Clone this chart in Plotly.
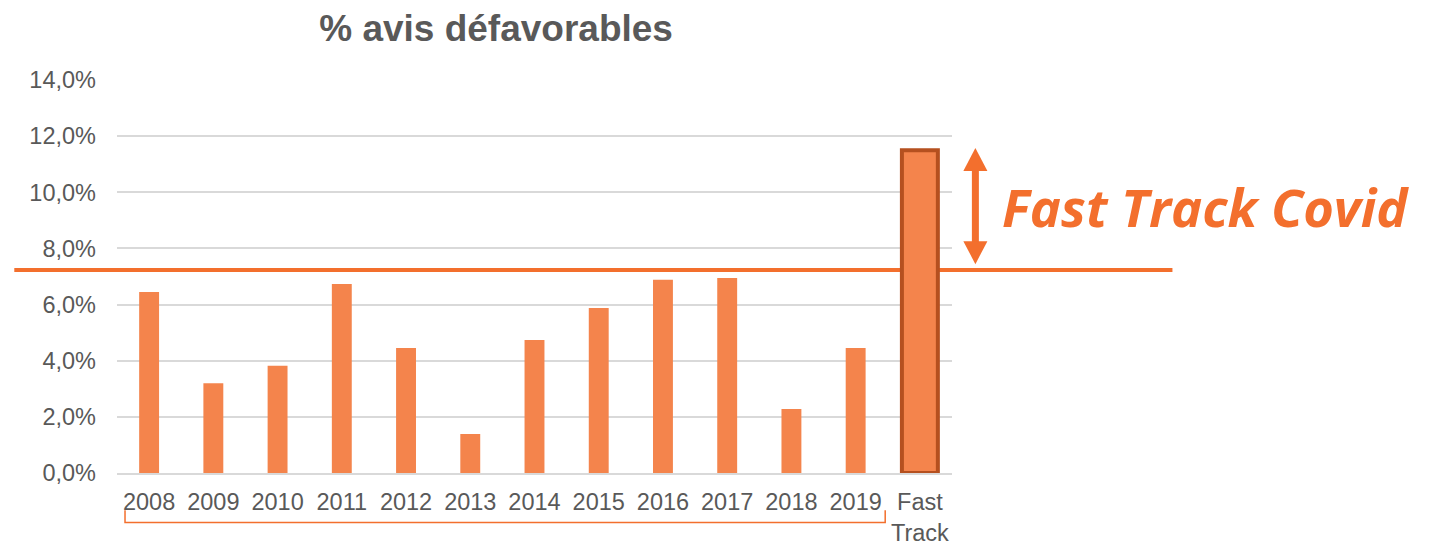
import plotly.graph_objects as go

years = ['2008', '2009', '2010', '2011', '2012', '2013', '2014', '2015', '2016', '2017', '2018', '2019']
rates = [6.45, 3.2, 3.82, 6.73, 4.45, 1.39, 4.74, 5.88, 6.88, 6.95, 2.28, 4.45]
fast_label = 'Fast<br>Track'
fast_rate = 11.5
threshold = 7.23
tick_vals = [0, 2, 4, 6, 8, 10, 12, 14]
tick_text = ['0,0%', '2,0%', '4,0%', '6,0%', '8,0%', '10,0%', '12,0%', '14,0%']

bar_col = '#F4844C'
line_col = '#F36F2D'
grey = '#595959'

fig = go.Figure()
fig.add_trace(go.Bar(x=years, y=rates, width=0.31, marker=dict(color=bar_col, line=dict(width=0)),
                     showlegend=False))
fig.add_trace(go.Bar(x=[fast_label], y=[fast_rate], width=0.56,
                     marker=dict(color=bar_col, line=dict(color='#B5501F', width=4)),
                     showlegend=False))

# threshold line, runs past the plot on both sides
fig.add_shape(type='line', xref='paper', yref='y', x0=-0.123, x1=1.264, y0=threshold, y1=threshold,
              line=dict(color=line_col, width=4), layer='between')

# double arrow between threshold and fast track bar
ax = 1.028
top, bottom = 11.58, 7.44
head = 0.82
hw = 0.0144
fig.add_shape(type='line', xref='paper', yref='y', x0=ax, x1=ax, y0=top - 0.3, y1=bottom + 0.3,
              line=dict(color=line_col, width=7))
fig.add_shape(type='path', xref='paper', yref='y',
              path=f'M {ax} {top} L {ax - hw} {top - head} L {ax + hw} {top - head} Z',
              fillcolor=line_col, line=dict(width=0))
fig.add_shape(type='path', xref='paper', yref='y',
              path=f'M {ax} {bottom} L {ax - hw} {bottom + head} L {ax + hw} {bottom + head} Z',
              fillcolor=line_col, line=dict(width=0))

fig.add_annotation(text='<b><i>Fast Track Covid</i></b>', xref='paper', yref='y', x=1.057, y=9.5,
                   xanchor='left', yanchor='middle', showarrow=False,
                   font=dict(family='Open Sans', size=52.5, color=line_col))

# bracket under the yearly labels
fig.add_shape(type='path', xref='paper', yref='paper',
              path='M 0.0096 -0.095 L 0.0096 -0.126 L 0.920 -0.126 L 0.920 -0.095',
              line=dict(color=line_col, width=1.5))

# page body has an 8px margin, so the figure is 8px smaller and shifted
fig.update_layout(
    width=1439, height=540,
    margin=dict(l=109, r=495, t=72, b=75),
    plot_bgcolor='white', paper_bgcolor='white',
    barmode='overlay',
    title=dict(text='<b>% avis défavorables</b>', x=0.454, xref='paper', xanchor='center',
               y=0.962, yanchor='middle',
               font=dict(family='Liberation Sans', size=37, color=grey)),
    font=dict(family='Liberation Sans', size=23.5, color=grey),
)
fig.update_yaxes(range=[0, 14], tickvals=tick_vals, ticktext=tick_text, showgrid=True,
                 gridcolor='#D9D9D9', gridwidth=1.5, zeroline=False, showline=False,
                 ticks='', ticklabelstandoff=20, automargin=False)
fig.update_xaxes(showline=True, linecolor='#D9D9D9', linewidth=1.5, ticks='',
                 ticklabelstandoff=7, automargin=False,
                 categoryorder='array', categoryarray=years + [fast_label])

fig.write_html('out.html')
